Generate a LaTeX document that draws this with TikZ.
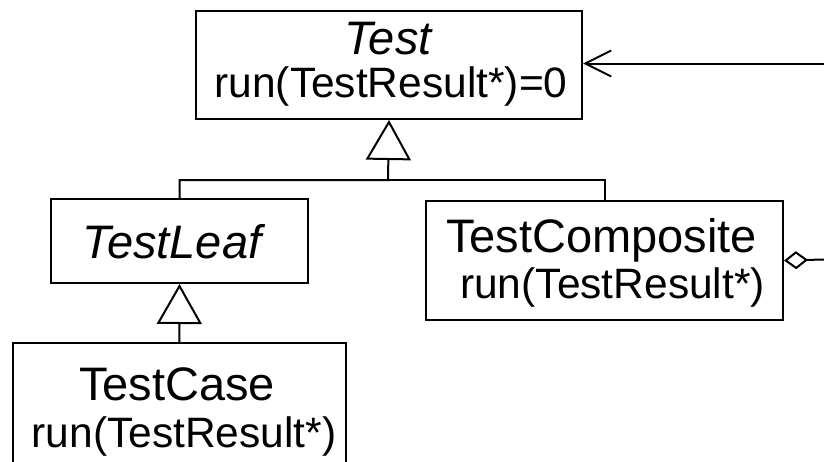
\documentclass[tikz,border=0pt]{standalone}
\usepackage{fontspec}
\setmainfont{Liberation Sans}
\usetikzlibrary{arrows.meta}
\begin{document}
\begin{tikzpicture}[x=1pt,y=-1pt,
  line width=2pt,
  classbox/.style={draw, line width=2pt, rectangle, inner sep=0pt, anchor=north west},
  cname/.style={inner sep=0pt, anchor=base, font=\fontsize{47}{50}\selectfont},
  cop/.style={inner sep=0pt, anchor=base, font=\fontsize{42.5}{46}\selectfont},
  inherit/.style={-{Triangle[open,length=40pt,width=45pt,line width=2pt]}},
  assoc/.style={-{Straight Barb[length=26pt,width=26pt,line width=2pt]}},
  aggr/.style={{Diamond[open,length=24pt,width=18pt,line width=2pt]}-}]
\clip (0,0) rectangle (824,461);
\fill[white] (0,0) rectangle (824,461);
% boxes
\node[classbox, minimum width=386pt, minimum height=108pt] (Test) at (195,10) {};
\node[classbox, minimum width=257pt, minimum height=84pt] (Leaf) at (50,198) {};
\node[classbox, minimum width=357pt, minimum height=119pt] (Comp) at (425,200) {};
\node[classbox, minimum width=333.5pt, minimum height=160pt] (Case) at (11.5,342) {};
% texts
\node[cname] (t1) at (388,54) {\itshape Test};
\node[cop] (t2) at (391,97) {run(TestResult*)=0};
\node[cname] (l1) at (172,258) {\itshape TestLeaf};
\node[cname] (c1) at (601.5,252) {TestComposite};
\node[cop] (c2) at (612.5,298) {run(TestResult*)};
\node[cname] (k1) at (177,400) {TestCase};
\node[cop] (k2) at (184,447) {run(TestResult*)};
% connectors
\coordinate (bar) at (388,180);
\coordinate (rin) at (824,63.5);
\coordinate (rout) at (824,259.5);
\draw[inherit] (Leaf.north) |- (bar) -- (Test.south);
\draw (Comp.north) |- (bar);
\draw[inherit] (Case.north) -- (Leaf.south);
\draw[assoc] (rin) -- (Test.east |- rin);
\draw[aggr] (Comp.east) -- (rout);
\end{tikzpicture}
\end{document}
